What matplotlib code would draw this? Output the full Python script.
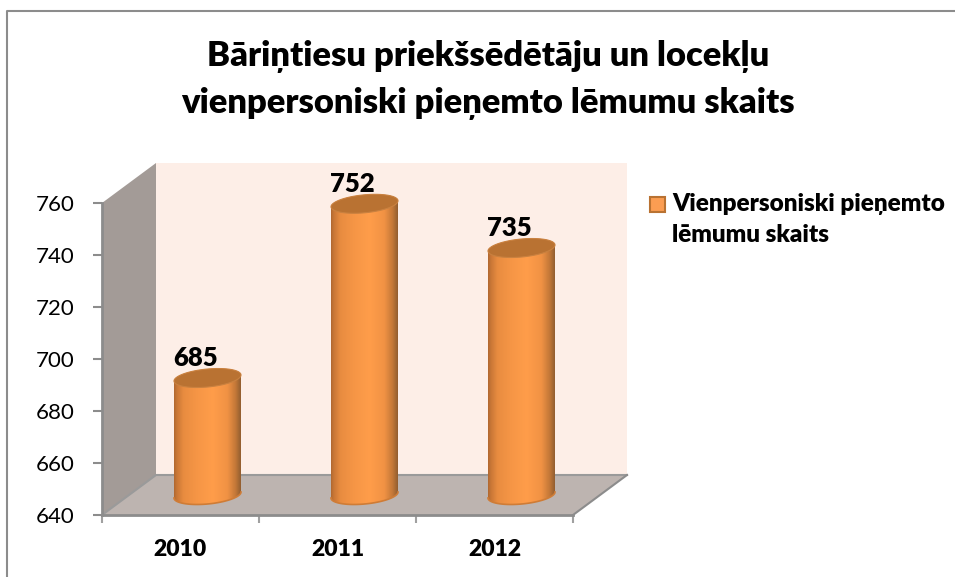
from matplotlib import pyplot as plt
from matplotlib.lines import Line2D
from matplotlib.patches import PathPatch, Polygon, Rectangle
from matplotlib.path import Path
import numpy as np

plt.rcParams['font.family'] = ['Lato', 'Noto Sans', 'DejaVu Sans']

years = ['2010', '2011', '2012']
values = [685, 752, 735]
y_ticks = [640, 660, 680, 700, 720, 740, 760]
title = 'Bāriņtiesu priekšsēdētāju un locekļu\nvienpersoniski pieņemto lēmumu skaits'
series_name = 'Vienpersoniski pieņemto\nlēmumu skaits'

# grid colours across the cylinder, left to right
stops = [0, 0.04, 0.14, 0.35, 0.58, 0.8, 0.92, 1]
stop_colors = np.array([[176, 104, 48], [200, 118, 54], [232, 140, 64], [246, 150, 70],
                        [255, 157, 74], [240, 146, 68], [196, 120, 56], [146, 94, 48]]) / 255

W, H = 955, 577
fig = plt.figure(figsize=(W / 100, H / 100), dpi=100)
ax = fig.add_axes([102 / W, (H - 515) / H, 471 / W, 312 / H])
ax.patch.set_visible(False)
ax.set_xlim(0, 3)
ax.set_ylim(640, 760)

# depth of the fake 3d box, in data units
px_x = 3 / 471
px_y = 120 / 312
depth_x = 54 * px_x
depth_y = 40 * px_y
x0, x1, y0, y1 = 0, 3, 640, 760

back = Polygon([(x0 + depth_x, y0 + depth_y), (x1 + depth_x, y0 + depth_y),
                (x1 + depth_x, y1 + depth_y), (x0 + depth_x, y1 + depth_y)],
               fc='#fdeee7', ec='none', clip_on=False, zorder=1)
wall = Polygon([(x0, y0), (x0 + depth_x, y0 + depth_y), (x0 + depth_x, y1 + depth_y), (x0, y1)],
               fc='#a39b97', ec='none', clip_on=False, zorder=2)
floor = Polygon([(x0, y0), (x1, y0), (x1 + depth_x, y0 + depth_y), (x0 + depth_x, y0 + depth_y)],
                fc='#bdb4b0', ec='none', clip_on=False, zorder=2)
for p in (back, wall, floor):
    ax.add_patch(p)
ax.plot([x0, x0 + depth_x, x1 + depth_x], [y0, y0 + depth_y, y0 + depth_y], color='#9a9a9a', lw=1.5,
        clip_on=False, zorder=3)
ax.plot([x1, x1 + depth_x], [y0, y0 + depth_y], color='#8c8c8c', lw=1.5, clip_on=False, zorder=3)

# cylinders
half_w = 33.5 * px_x
ell_h = 9 * px_y
tilt = 3 * px_y
grad = np.array([[np.interp(np.linspace(0, 1, 200), stops, stop_colors[:, c]) for c in range(3)]])
grad = np.moveaxis(grad, 1, 2)


def arc(cx, cy, t):
    return np.column_stack([cx + half_w * np.cos(t), cy + ell_h * np.sin(t) + tilt * np.cos(t)])


for i, v in enumerate(values):
    cx = i + 0.5 + depth_x / 2
    base = y0 + depth_y / 2
    top = v + depth_y / 2
    low = arc(cx, base, np.linspace(np.pi, 2 * np.pi, 60))
    up = arc(cx, top, np.linspace(0, np.pi, 60))
    outline = PathPatch(Path(np.vstack([low, up, low[:1]])), transform=ax.transData)
    im = ax.imshow(grad, extent=(cx - half_w, cx + half_w, base - 15 * px_y, top + 15 * px_y),
                   aspect='auto', interpolation='bilinear', zorder=4)
    im.set_clip_path(outline)
    im.set_clip_box(fig.bbox)
    ax.plot(low[:, 0], low[:, 1], color='#cf7c36', lw=1.2, clip_on=False, zorder=5)
    cap = arc(cx, top, np.linspace(0, 2 * np.pi, 120))
    ax.add_patch(Polygon(cap, fc='#b97232', ec='#c98140', lw=0.8, clip_on=False, zorder=6))
    ax.annotate(str(v), (cx, top), xytext=(-12, 20), textcoords='offset pixels', ha='center', va='center',
                fontsize=18.5, fontweight='heavy', color='black', zorder=7, annotation_clip=False)

ax.set_xlim(0, 3)
ax.set_ylim(640, 760)

for s in ('top', 'right'):
    ax.spines[s].set_visible(False)
for s in ('left', 'bottom'):
    ax.spines[s].set_color('#8c8c8c')
    ax.spines[s].set_linewidth(2)
    ax.spines[s].set_zorder(3)

ax.set_yticks(y_ticks)
ax.tick_params(axis='y', length=6.5, width=1.5, color='#8c8c8c', labelsize=16, pad=13)
ax.set_xticks([0, 1, 2, 3])
ax.set_xticklabels([])
ax.tick_params(axis='x', which='major', length=5.5, width=1.5, color='#a0a0a0')
ax.set_xticks([0.5, 1.5, 2.5], minor=True)
ax.set_xticklabels(years, minor=True, fontweight='heavy', fontsize=16.5)
ax.tick_params(axis='x', which='minor', length=0, pad=17)

fig.text(488 / W, 1 - 80 / H, title, ha='center', va='center', fontsize=24.8, fontweight='heavy',
         linespacing=1.55, color='black')

# legend swatch and label
fig.add_artist(Rectangle((650 / W, 1 - 212 / H), 15 / W, 15 / H, transform=fig.transFigure,
                         fc='#fb9d52', ec='#b97232', lw=1.5))
fig.text(672 / W, 1 - 219.5 / H, series_name, ha='left', va='center', fontsize=17.5, fontweight='heavy',
         linespacing=1.5, color='black')

# chart border, cut off by the screenshot on the right and bottom
fig.add_artist(Line2D([7 / W, 7 / W, 1], [0, 1 - 11 / H, 1 - 11 / H], color='#8c8c8c', lw=1.5))

fig.savefig('out.png', dpi=100)
